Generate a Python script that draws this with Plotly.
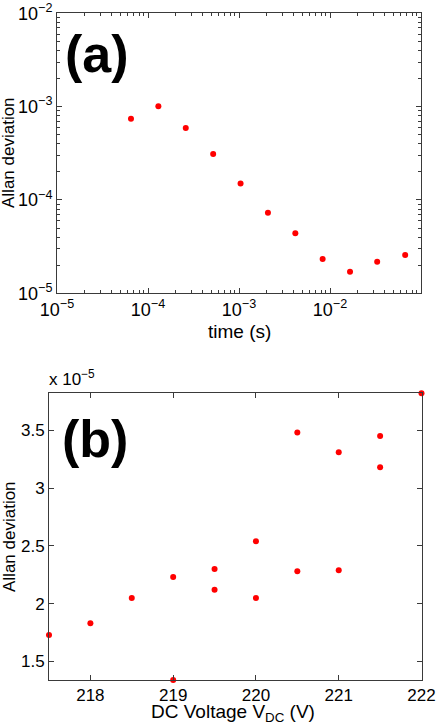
import plotly.graph_objects as go

# ---- data ----
tau_s = [6.5e-5, 1.3e-4, 2.6e-4, 5.2e-4, 1.04e-3, 2.08e-3, 4.16e-3, 8.3e-3, 1.66e-2, 3.3e-2, 6.7e-2]
adev_a = [7.4e-4, 1.01e-3, 5.9e-4, 3.1e-4, 1.5e-4, 7.3e-5, 4.4e-5, 2.33e-5, 1.70e-5, 2.18e-5, 2.57e-5]

vdc = [217.5, 218, 218.5, 219, 219, 219.5, 219.5, 220, 220, 220.5, 220.5, 221, 221, 221.5, 221.5, 222]
adev_b = [1.73, 1.83, 2.05, 2.23, 1.34, 2.30, 2.12, 2.54, 2.05, 3.48, 2.28, 3.31, 2.29, 3.45, 3.18, 3.82]  # x 1e-5

a_xticks = [1e-5, 1e-4, 1e-3, 1e-2, 1e-1]
a_xticktext = ["10<sup>−5</sup>", "10<sup>−4</sup>", "10<sup>−3</sup>", "10<sup>−2</sup>", "10<sup>−1</sup>"]
a_yticks = [1e-5, 1e-4, 1e-3, 1e-2]
a_yticktext = ["10<sup>−5</sup>", "10<sup>−4</sup>", "10<sup>−3</sup>", "10<sup>−2</sup>"]
b_xticks = [218, 219, 220, 221, 222]
b_yticks = [1.5, 2, 2.5, 3, 3.5]
b_yticktext = ["1.5", "2", "2.5", "3", "3.5"]

minor_x = [m * 10 ** e for e in range(-5, -1) for m in range(2, 10)]
minor_y = [m * 10 ** e for e in range(-5, -2) for m in range(2, 10)]

FONT = "Liberation Sans, Arial, sans-serif"
AX = "#3a3a3a"
RED = "#ff0000"
TICK = 17
LOGTICK = 18
TITLE = 19
VTITLE = 17

fig = go.Figure()
fig.add_trace(go.Scatter(x=tau_s, y=adev_a, mode="markers", xaxis="x", yaxis="y",
                         marker=dict(color=RED, size=6), cliponaxis=False, showlegend=False))
fig.add_trace(go.Scatter(x=vdc, y=adev_b, mode="markers", xaxis="x2", yaxis="y2",
                         marker=dict(color=RED, size=6), cliponaxis=False, showlegend=False))

W, H = 436, 726
common = dict(showgrid=False, zeroline=False, showline=True, linecolor=AX, linewidth=1,
              mirror="allticks", ticks="inside", ticklen=5, tickcolor=AX, automargin=False)

fig.update_layout(
    width=W, height=H, margin=dict(l=0, r=0, t=0, b=0),
    paper_bgcolor="white", plot_bgcolor="white",
    font=dict(family=FONT, size=TICK, color="black"),
    xaxis=dict(type="log", range=[-5, -1], domain=[57 / W, 421 / W], anchor="y",
               tickvals=a_xticks, ticktext=a_xticktext,
               tickfont=dict(family=FONT, size=LOGTICK, color="black"),
               minor=dict(ticks="inside", ticklen=3, tickcolor=AX, tickvals=minor_x), **common),
    yaxis=dict(type="log", range=[-5, -2], domain=[1 - 293.3 / H, 1 - 13.3 / H], anchor="x",
               tickvals=a_yticks, ticktext=a_yticktext,
               tickfont=dict(family=FONT, size=LOGTICK, color="black"),
               minor=dict(ticks="inside", ticklen=3, tickcolor=AX, tickvals=minor_y), **common),
    xaxis2=dict(range=[217.5, 222], domain=[49 / W, 421.5 / W], anchor="y2",
                tickvals=b_xticks, tickfont=dict(family=FONT, size=TICK, color="black"), **common),
    yaxis2=dict(range=[min(adev_b), max(adev_b)], domain=[1 - 680 / H, 1 - 393.3 / H], anchor="x2",
                tickvals=b_yticks, ticktext=b_yticktext,
                tickfont=dict(family=FONT, size=TICK, color="black"), **common),
    annotations=[
        dict(text="time (s)", xref="paper", yref="paper", x=239 / W, y=1 - 331 / H,
             xanchor="center", yanchor="middle", showarrow=False,
             font=dict(family=FONT, size=TITLE, color="black")),
        dict(text="Allan deviation", xref="paper", yref="paper", x=9 / W, y=1 - 153 / H,
             xanchor="center", yanchor="middle", textangle=-90, showarrow=False,
             font=dict(family=FONT, size=VTITLE, color="black")),
        dict(text="DC Voltage V<sub>DC</sub> (V)", xref="paper", yref="paper", x=233 / W, y=1 - 713 / H,
             xanchor="center", yanchor="middle", showarrow=False,
             font=dict(family=FONT, size=TITLE, color="black")),
        dict(text="Allan deviation", xref="paper", yref="paper", x=9 / W, y=1 - 537 / H,
             xanchor="center", yanchor="middle", textangle=-90, showarrow=False,
             font=dict(family=FONT, size=VTITLE, color="black")),
        dict(text="<b>(a)</b>", xref="paper", yref="paper", x=63 / W, y=1 - 54 / H,
             xanchor="left", yanchor="middle", showarrow=False,
             font=dict(family=FONT, size=52, color="black")),
        dict(text="<b>(b)</b>", xref="paper", yref="paper", x=60 / W, y=1 - 439 / H,
             xanchor="left", yanchor="middle", showarrow=False,
             font=dict(family=FONT, size=52, color="black")),
        dict(text="x 10<sup>−5</sup>", xref="paper", yref="paper", x=47 / W, y=1 - 391 / H,
             xanchor="left", yanchor="bottom", showarrow=False,
             font=dict(family=FONT, size=TICK, color="black")),
    ],
)

fig.write_html("out.html", config={"displayModeBar": False},
               post_script="document.body.style.margin='0';")
